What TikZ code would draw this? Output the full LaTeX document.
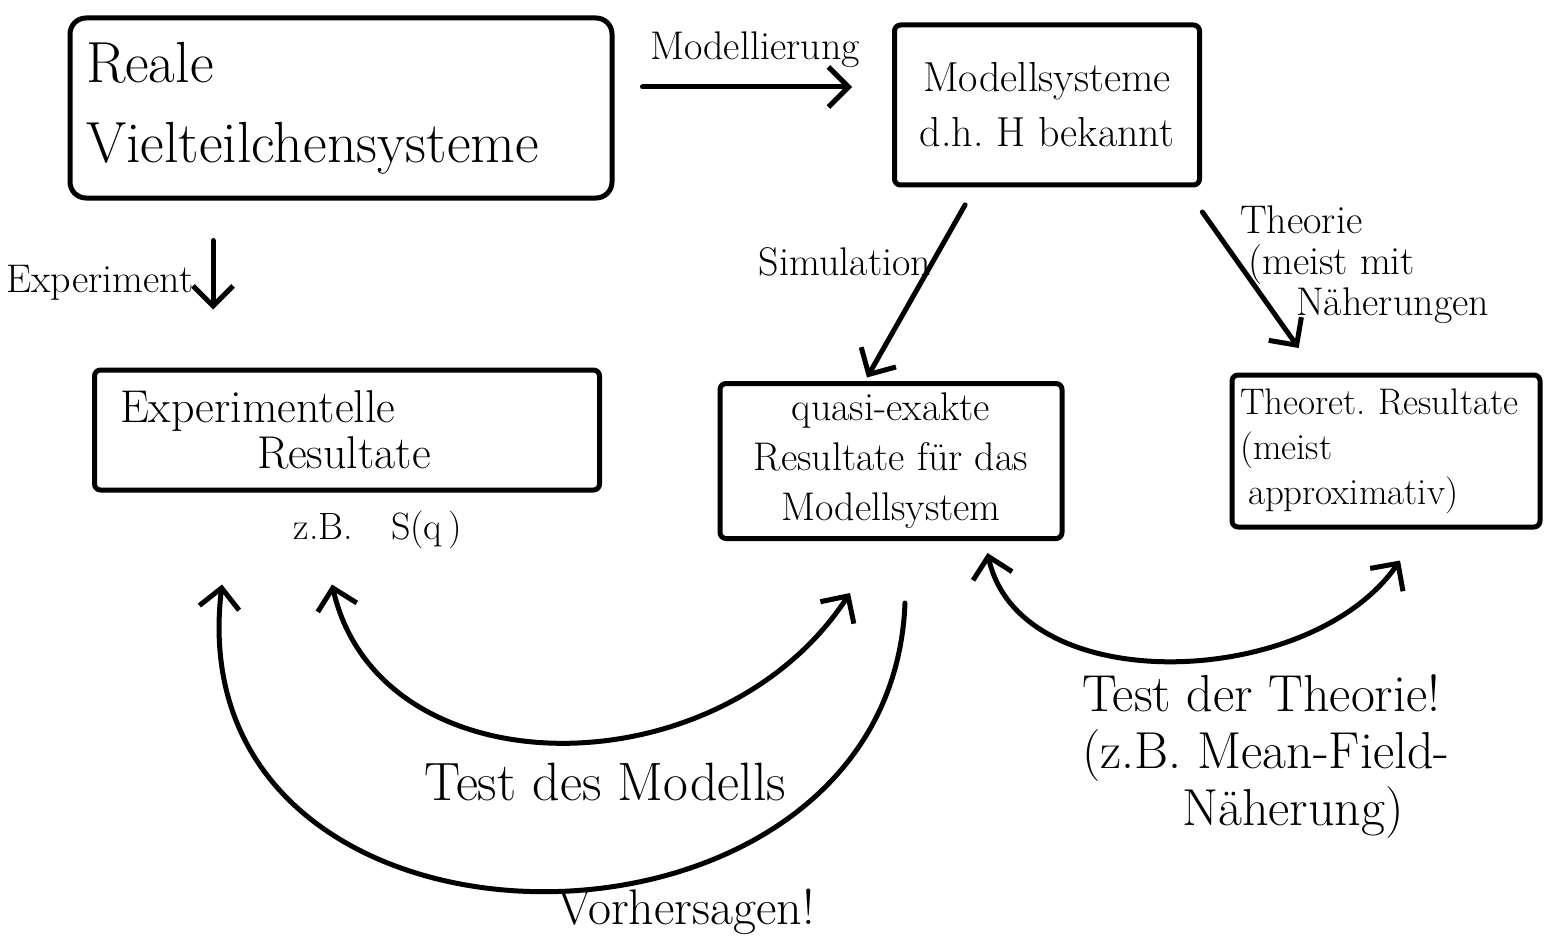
\documentclass[tikz,border=0pt]{standalone}
\usepackage{fontspec}
\usetikzlibrary{arrows.meta}
\newcommand\hfs[2]{\fontsize{#1}{#2}\selectfont}
\begin{document}
\begin{tikzpicture}[x=1pt,y=-1pt,
  ink/.style={line width=5pt, line cap=round, line join=round},
  box/.style={ink, draw, inner sep=0pt, rounded corners=6pt},
  arr/.style={ink, -{Straight Barb[length=20pt,width=40pt]}},
  darr/.style={ink, {Straight Barb[length=20pt,width=40pt]}-{Straight Barb[length=20pt,width=40pt]}},
  lbl/.style={inner sep=0pt}
]
\useasboundingbox (0,0) rectangle (1554,944);

% boxes
\node[box, rounded corners=16pt, minimum width=542pt, minimum height=180pt,
      text width=510pt, align=left, font=\hfs{58}{80}] (real) at (341,108)
      {Reale\\Vielteilchensysteme};
\node[box, minimum width=305pt, minimum height=160pt, align=center,
      font=\hfs{42}{55}] (model) at (1047,105) {Modellsysteme\\d.h.\ H bekannt};
\node[box, minimum width=505pt, minimum height=120pt, text width=480pt, align=left,
      font=\hfs{46}{46}] (exp) at (347,430) {\hspace*{13pt}Experimentelle\\\hspace*{150pt}Resultate};
\node[box, minimum width=342pt, minimum height=155pt, align=center,
      font=\hfs{40}{50}] (quasi) at (891,461) {quasi-exakte\\Resultate für das\\Modellsystem};
\node[box, minimum width=308pt, minimum height=152pt, text width=292pt, align=left,
      font=\hfs{37}{45}] (theo) at (1386,451) {Theoret.\ Resultate\\(meist\\\hspace*{8pt}approximativ)};

% labels
\node[lbl, font=\hfs{40}{40}] (lmod) at (755,50) {Modellierung};
\node[lbl, font=\hfs{40}{44}] (lexp) at (100,283) {Experiment};
\node[lbl, font=\hfs{40}{40}] (lsim) at (845,262) {Simulation};
\node[lbl, font=\hfs{40}{41}, align=left, anchor=west] (lth) at (1240,265)
      {Theorie\\\hspace*{8pt}(meist mit\\\hspace*{56pt}Näherungen};
\node[lbl, font=\hfs{38}{44}] (zb) at (378,530) {z.B.\quad S(q\,)};
\node[lbl, font=\hfs{54}{60}] (ltm) at (605,782) {Test des Modells};
\node[lbl, font=\hfs{50}{56}] (lvor) at (686,912) {Vorhersagen!};
\node[lbl, font=\hfs{52}{57}, align=left, anchor=west] (ltt) at (1082,757)
      {Test der Theorie!\\(z.B.\ Mean-Field-\\\hspace*{100pt}Näherung)};

% straight arrows
\draw[arr, shorten <=28pt, shorten >=40pt] ([yshift=21pt]real.east) -- ([yshift=18pt]model.west);
\draw[arr, shorten <=40pt, shorten >=58pt] ([xshift=-128pt]real.south) -- ([xshift=-134pt]exp.north);
\draw[arr, shorten <=20pt, shorten >=4pt] ([xshift=-72pt]model.south) -- ([xshift=-26pt]quasi.north);
\draw[arr, shorten <=30pt, shorten >=30pt] ([xshift=138pt]model.south) -- ([xshift=-70pt]theo.north);

% curved arrows
\draw[darr] ([shift={(-15,92)}]exp.south) .. controls (380,793) and (719,793) .. ([shift={(-41,52)}]quasi.south);
\draw[arr] ([shift={(14,62)}]quasi.south) .. controls (890,990) and (174,990) .. ([shift={(-125,92)}]exp.south);
\draw[darr] ([shift={(-77,12)}]quasi.south east) .. controls (1020,700) and (1310,690) .. ([shift={(14,31)}]theo.south);
\end{tikzpicture}
\end{document}
